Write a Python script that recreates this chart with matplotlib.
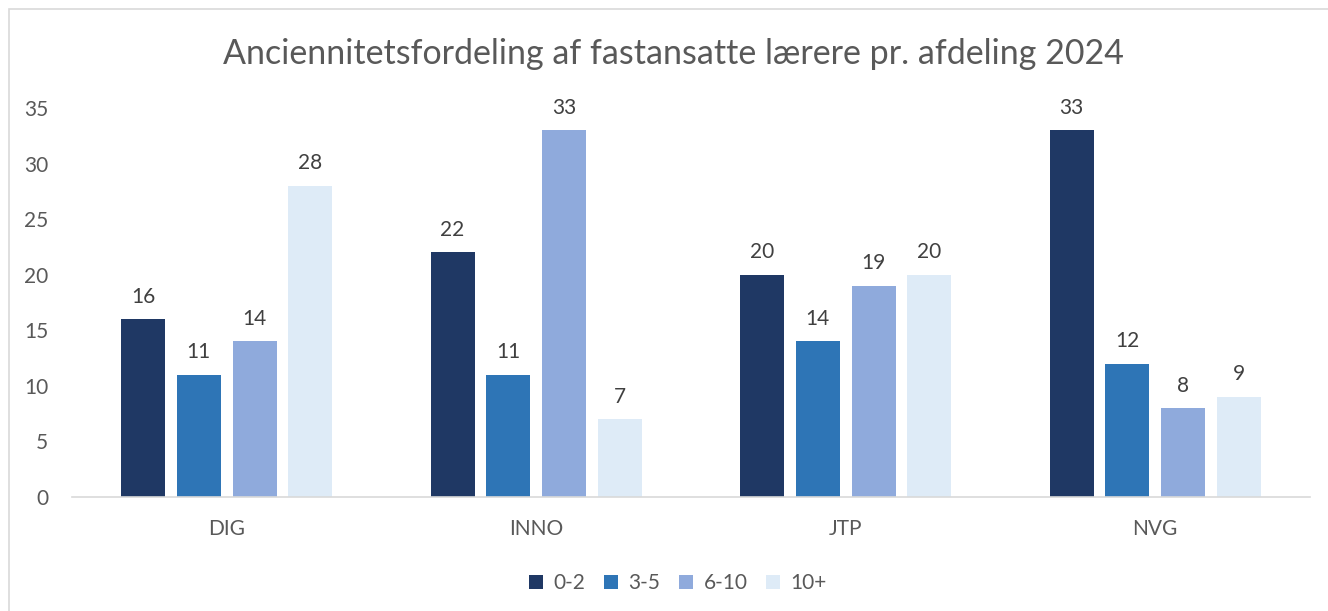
import matplotlib.pyplot as plt
import numpy as np
from matplotlib.patches import Rectangle

# ---------------- data ----------------
departments = ["DIG", "INNO", "JTP", "NVG"]
groups = ["0-2", "3-5", "6-10", "10+"]
vals_0_2 = [16, 22, 20, 33]
vals_3_5 = [11, 11, 14, 12]
vals_6_10 = [14, 33, 19, 8]
vals_10p = [28, 7, 20, 9]

colors = ["#1F3864", "#2E75B6", "#8FAADC", "#DEEBF7"]
TXT = "#595959"

plt.rcParams['font.family'] = ['Lato', 'DejaVu Sans']

fig = plt.figure(figsize=(13.28, 6.11), dpi=100)
ax = fig.add_axes([72 / 1328, 1 - 497 / 611, 1238 / 1328, 389 / 611])

# chart border
fig.patches.append(Rectangle((9 / 1328, -0.05), 1.1, 1 - 9 / 611 + 0.05,
                             transform=fig.transFigure, fill=False,
                             edgecolor="#D9D9D9", linewidth=1.2))

x = np.arange(len(departments))
width = 44 / 309.5
step = 55.8 / 309.5
series = [vals_0_2, vals_3_5, vals_6_10, vals_10p]
for i, (vals, lab) in enumerate(zip(series, groups)):
    offs = (i - 1.5) * step
    bars = ax.bar(x + offs, vals, width, color=colors[i], label=lab, zorder=2)
    ax.bar_label(bars, padding=9, fontsize=15, color="#404040")

ax.set_xlim(-0.5, len(departments) - 0.5)
ax.set_ylim(0, 35)
ax.set_yticks(range(0, 36, 5))
ax.set_xticks(x)
ax.set_xticklabels(departments)
ax.tick_params(axis='y', length=0, labelsize=15, labelcolor=TXT, pad=17)
ax.tick_params(axis='x', length=0, labelsize=15, labelcolor=TXT, pad=16)
for s in ["top", "right", "left"]:
    ax.spines[s].set_visible(False)
ax.spines["bottom"].set_color("#D9D9D9")
ax.spines["bottom"].set_linewidth(1.2)

fig.text(0.507, 1 - 54 / 611, "Anciennitetsfordeling af fastansatte lærere pr. afdeling 2024",
         ha="center", va="center", fontsize=24.5, color=TXT)

fig.legend(loc="center", bbox_to_anchor=(678 / 1328, 1 - 583 / 611), ncol=4, frameon=False,
           fontsize=15, labelcolor=TXT, handlelength=0.67, handleheight=0.67,
           columnspacing=0.9, handletextpad=0.5)

fig.savefig("out.png", dpi=100)
